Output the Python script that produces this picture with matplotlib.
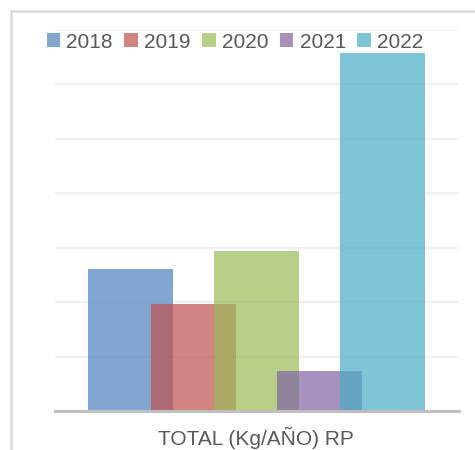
import matplotlib

matplotlib.use("Agg")

import matplotlib.pyplot as plt
from matplotlib.lines import Line2D
from matplotlib.patches import Patch

# Values, in gridline units (one gridline = 1 step).
YEARS = ["2018", "2019", "2020", "2021", "2022"]
TOTALS = [2.61, 1.97, 2.94, 0.735, 6.58]
COLORS = ["#4F81BD", "#C0504D", "#9BBB59", "#8064A2", "#4BACC6"]
X_LABEL = "TOTAL (Kg/AÑO) RP"

W, H = 475, 450
BAR_ALPHA = 0.7
TEXT_COLOR = "#595959"
FONT = "Liberation Sans"

fig = plt.figure(figsize=(W / 100, H / 100), dpi=100)
ax = fig.add_axes([55 / W, (H - 411) / H, (459 - 55) / W, (411 - 30) / H])

positions = list(range(len(YEARS)))
for pos, value, color in zip(positions, TOTALS, COLORS):
    ax.bar(pos, value, width=1.35, color=color, alpha=BAR_ALPHA, linewidth=0, zorder=3)

ax.set_xlim(-1.2, 5.215)
ax.set_ylim(0, 7)
ax.set_yticks(range(0, 8))
ax.grid(axis="y", color="#F0F0F0", linewidth=1.5, zorder=0)
ax.tick_params(left=False, bottom=False, labelleft=False, labelbottom=False)
for side in ("top", "right", "left"):
    ax.spines[side].set_visible(False)
ax.spines["bottom"].set_color("#BFBFBF")
ax.spines["bottom"].set_linewidth(2.2)
ax.spines["bottom"].set_zorder(4)

handles = [Patch(facecolor=c, alpha=BAR_ALPHA, linewidth=0) for c in COLORS]
fig.legend(
    handles,
    YEARS,
    loc="center",
    bbox_to_anchor=(235 / W, (H - 42) / H),
    ncol=5,
    frameon=False,
    prop={"family": FONT, "size": 15},
    labelcolor=TEXT_COLOR,
    handlelength=0.65,
    handleheight=0.65,
    handletextpad=0.3,
    columnspacing=0.55,
    borderaxespad=0,
    borderpad=0,
)

# label sits at the very bottom edge, as in the cropped reference
fig.text(256 / W, 5 / H, X_LABEL, ha="center", va="baseline",
         family=FONT, fontsize=15, color=TEXT_COLOR)

# outer chart frame (cropped on the right and bottom)
frame_color = "#D9D9D9"
fig.add_artist(Line2D([10.5 / W, 10.5 / W], [0, (H - 10.5) / H], transform=fig.transFigure,
                      color=frame_color, linewidth=1.8))
fig.add_artist(Line2D([10.5 / W, 1], [(H - 10.5) / H, (H - 10.5) / H], transform=fig.transFigure,
                      color=frame_color, linewidth=1.8))

fig.savefig("out.png", dpi=100)
